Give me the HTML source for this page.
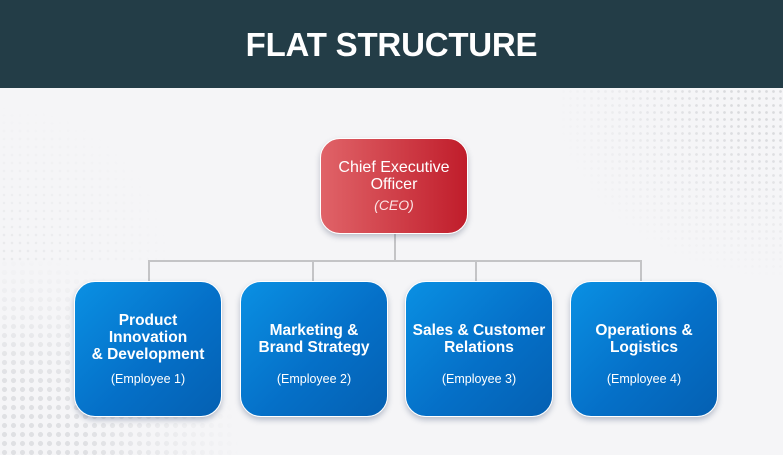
<!DOCTYPE html>
<html><head><meta charset="utf-8"><style>
html,body{margin:0;padding:0}
body{width:783px;height:455px;position:relative;overflow:hidden;background:#f5f5f7;font-family:"Liberation Sans",sans-serif}
.hdr{position:absolute;left:0;top:0;width:783px;height:88px;background:#233d47}
.hdr h1{margin:0;position:absolute;left:0;width:783px;top:25px;text-align:center;color:#fff;font-size:33px;font-weight:bold;line-height:40px;letter-spacing:-0.2px}
.dots1{position:absolute;left:0;top:250px;width:260px;height:205px;
background-image:radial-gradient(circle,#dfe0e3 2.3px,transparent 2.8px);background-size:9px 9px;
-webkit-mask-image:radial-gradient(ellipse 240px 200px at 0% 100%,#000 35%,transparent 100%);mask-image:radial-gradient(ellipse 240px 200px at 0% 100%,#000 35%,transparent 100%)}
.dots2{position:absolute;left:560px;top:88px;width:223px;height:200px;
background-image:radial-gradient(circle,#d9dadd 1.1px,transparent 1.6px);background-size:7px 7px;
-webkit-mask-image:radial-gradient(ellipse 230px 190px at 100% 0%,#000 25%,transparent 100%);mask-image:radial-gradient(ellipse 230px 190px at 100% 0%,#000 25%,transparent 100%)}
.dots3{position:absolute;left:0;top:95px;width:180px;height:170px;
background-image:radial-gradient(circle,#e8e9eb 1px,transparent 1.5px);background-size:8px 8px;
-webkit-mask-image:radial-gradient(ellipse 170px 160px at 0% 100%,#000 10%,transparent 100%);mask-image:radial-gradient(ellipse 170px 160px at 0% 100%,#000 10%,transparent 100%)}
.ln{position:absolute;background:#c4c4c6}
.ceo{position:absolute;left:320px;top:138px;width:146px;height:94px;border:1.5px solid #fff;border-radius:20px;background:linear-gradient(90deg,#e06368,#c01d2b);box-shadow:0 3px 6px rgba(60,70,100,0.3);color:#fff;text-align:center;box-sizing:content-box}
.ceo .t{position:absolute;left:0;width:100%;top:20px;font-size:16px;line-height:17px}
.ceo .s{position:absolute;left:0;width:100%;top:58px;font-size:14px;font-style:italic;line-height:16px;color:#fbe3e4}
.box{position:absolute;top:281px;width:146px;height:134px;border:1.5px solid #fff;border-radius:21px;background:linear-gradient(135deg,#0a90e3 0%,#0570c8 55%,#0560b2 100%);box-shadow:0 3px 6px rgba(40,60,100,0.3);color:#fff;text-align:center}
.box .t{position:absolute;left:0;width:100%;font-size:15.5px;font-weight:bold;line-height:17px}
.box .s{position:absolute;left:0;width:100%;top:90px;font-size:12.5px;line-height:14px}
</style></head><body>
<div class="hdr"><h1>FLAT STRUCTURE</h1></div>
<div class="dots3"></div>
<div class="dots1"></div>
<div class="dots2"></div>

<div class="ln" style="left:394px;top:232px;width:2px;height:30px"></div>
<div class="ln" style="left:148px;top:260px;width:494px;height:2px"></div>
<div class="ln" style="left:148px;top:260px;width:2px;height:22px"></div>
<div class="ln" style="left:312px;top:260px;width:2px;height:22px"></div>
<div class="ln" style="left:475px;top:260px;width:2px;height:22px"></div>
<div class="ln" style="left:640px;top:260px;width:2px;height:22px"></div>

<div class="ceo"><div class="t">Chief Executive<br>Officer</div><div class="s">(CEO)</div></div>

<div class="box" style="left:74px"><div class="t" style="top:30px">Product<br>Innovation<br>&amp; Development</div><div class="s">(Employee 1)</div></div>
<div class="box" style="left:240px"><div class="t" style="top:40px">Marketing &amp;<br>Brand Strategy</div><div class="s">(Employee 2)</div></div>
<div class="box" style="left:405px"><div class="t" style="top:40px">Sales &amp; Customer<br>Relations</div><div class="s">(Employee 3)</div></div>
<div class="box" style="left:570px"><div class="t" style="top:40px">Operations &amp;<br>Logistics</div><div class="s">(Employee 4)</div></div>
</body></html>
